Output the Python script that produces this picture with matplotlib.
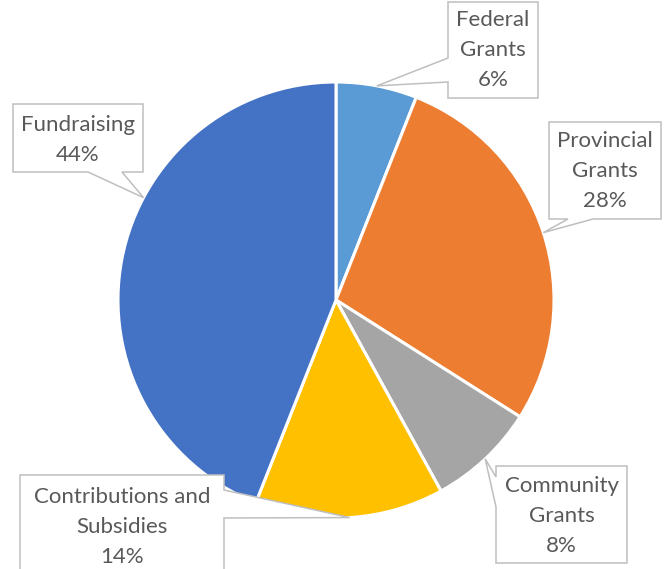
import matplotlib.pyplot as plt
import numpy as np
from matplotlib.patches import Polygon

# data
categories = ['Federal\nGrants', 'Provincial\nGrants', 'Community\nGrants',
              'Contributions and\nSubsidies', 'Fundraising']
shares = [6, 28, 8, 14, 44]
colors = ['#5B9BD5', '#ED7D31', '#A5A5A5', '#FFC000', '#4472C4']

W, H = 670, 569
cx, cy, R = 336, H - 300, 218

# callout layout in picture pixels (y down): box, side of the pointer, pointer base, tip angle
boxes = [(448, 2, 538, 98), (549, 122, 661, 219), (496, 466, 627, 563),
         (20, 475, 224, 620), (13, 104, 143, 172)]
sides = ['left', 'bottom', 'left', 'right', 'bottom']
bases = [(58, 82), (568, 593), (477, 507), (490, 518), (88, 122)]
tip_ang = [None, None, None, None, 152]
text_y = [50, 171, 516, 527, 140]


def callout(box, side, base, tip):
    x0, y0, x1, y1 = box
    a, b = base
    # corners clockwise on screen, with pointer inserted
    if side == 'left':
        pts = [(x0, y0), (x1, y0), (x1, y1), (x0, y1), (x0, b), tip, (x0, a)]
    elif side == 'right':
        pts = [(x0, y0), (x1, y0), (x1, a), tip, (x1, b), (x1, y1), (x0, y1)]
    else:
        pts = [(x0, y0), (x1, y0), (x1, y1), (b, y1), tip, (a, y1), (x0, y1)]
    return [(px, H - py) if (px, py) != tip else tip for px, py in pts]


fig = plt.figure(figsize=(6.7, 5.69), dpi=100)
ax = fig.add_axes([0, 0, 1, 1])
wedges, _ = ax.pie(shares, colors=colors, startangle=90, counterclock=False,
                   center=(cx, cy), radius=R,
                   wedgeprops=dict(edgecolor='white', linewidth=2.2))

for i, w in enumerate(wedges):
    ang = tip_ang[i] if tip_ang[i] is not None else (w.theta1 + w.theta2) / 2
    tip = (cx + R * np.cos(np.radians(ang)), cy + R * np.sin(np.radians(ang)))
    poly = Polygon(callout(boxes[i], sides[i], bases[i], tip), closed=True,
                   facecolor='white', edgecolor='#BFBFBF', linewidth=1.1, zorder=5)
    ax.add_patch(poly)
    x0, y0, x1, y1 = boxes[i]
    ax.text((x0 + x1) / 2, H - text_y[i], f'{categories[i]}\n{shares[i]}%',
            ha='center', va='center', fontsize=16, color='#595959',
            family='Lato', linespacing=1.6, zorder=6)

ax.set_xlim(0, W)
ax.set_ylim(0, H)
ax.set_aspect('equal')
ax.axis('off')
fig.savefig('out.png', dpi=100)
